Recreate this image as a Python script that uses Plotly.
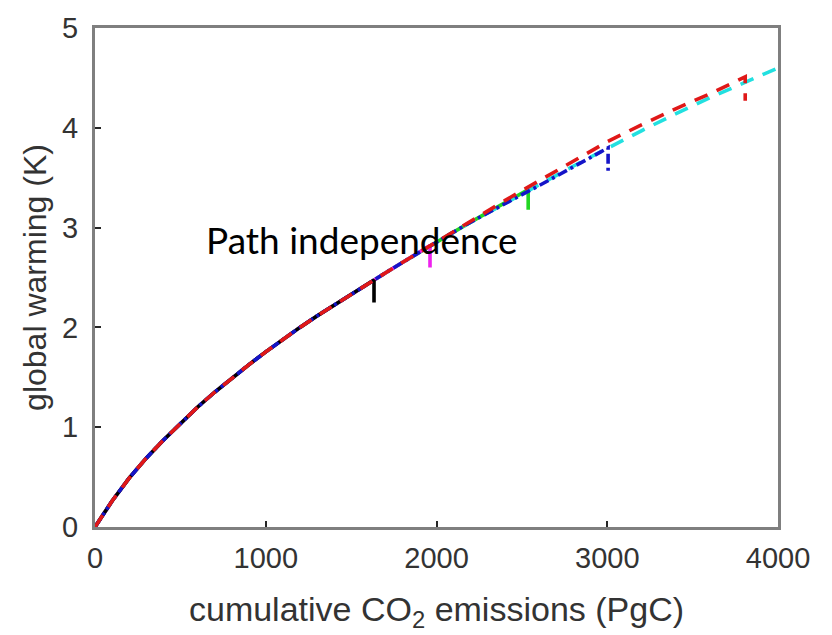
import plotly.graph_objects as go

# Warming (K) versus cumulative CO2 emissions (PgC) for six emission pathways.
# Each pathway follows the common curve until emissions stop, then warming
# drops back slightly at constant cumulative emissions.

black_emis = [0, 100, 200, 300, 400, 500, 600, 700, 800, 900, 1000, 1100, 1200, 1300, 1400,
              1500, 1600, 1634, 1634]
black_warm = [0.00, 0.26, 0.49, 0.69, 0.87, 1.04, 1.20, 1.35, 1.49, 1.625, 1.755, 1.88, 2.00,
              2.115, 2.225, 2.335, 2.44, 2.475, 2.25]

magenta_emis = [0, 100, 200, 300, 400, 500, 600, 700, 800, 900, 1000, 1100, 1200, 1300, 1400,
                1500, 1600, 1700, 1800, 1900, 1962, 1962]
magenta_warm = [0.00, 0.26, 0.49, 0.69, 0.87, 1.04, 1.20, 1.35, 1.49, 1.625, 1.755, 1.88, 2.00,
                2.115, 2.225, 2.335, 2.44, 2.545, 2.65, 2.755, 2.82, 2.60]

green_emis = [0, 100, 200, 300, 400, 500, 600, 700, 800, 900, 1000, 1100, 1200, 1300, 1400,
              1500, 1600, 1700, 1800, 1900, 2000, 2100, 2200, 2300, 2400, 2500, 2537, 2537]
green_warm = [0.00, 0.26, 0.49, 0.69, 0.87, 1.04, 1.20, 1.35, 1.49, 1.625, 1.755, 1.88, 2.00,
              2.115, 2.225, 2.335, 2.44, 2.545, 2.65, 2.755, 2.855, 2.955, 3.055, 3.15, 3.245,
              3.34, 3.38, 3.18]

blue_emis = [0, 100, 200, 300, 400, 500, 600, 700, 800, 900, 1000, 1100, 1200, 1300, 1400,
             1500, 1600, 1700, 1800, 1900, 2000, 2100, 2200, 2300, 2400, 2500, 2600, 2700,
             2800, 2900, 3005, 3005]
blue_warm = [0.00, 0.26, 0.49, 0.69, 0.87, 1.04, 1.20, 1.35, 1.49, 1.625, 1.755, 1.88, 2.00,
             2.115, 2.225, 2.335, 2.44, 2.545, 2.65, 2.755, 2.855, 2.955, 3.055, 3.15, 3.24,
             3.33, 3.42, 3.51, 3.60, 3.70, 3.80, 3.55]

red_emis = [0, 100, 200, 300, 400, 500, 600, 700, 800, 900, 1000, 1100, 1200, 1300, 1400,
            1500, 1600, 1700, 1800, 1900, 2000, 2100, 2200, 2300, 2400, 2500, 2600, 2700,
            2800, 2900, 3000, 3200, 3400, 3600, 3808, 3808]
red_warm = [0.00, 0.26, 0.49, 0.69, 0.87, 1.04, 1.20, 1.35, 1.49, 1.625, 1.755, 1.88, 2.00,
            2.115, 2.225, 2.335, 2.44, 2.545, 2.65, 2.755, 2.86, 2.965, 3.07, 3.17, 3.27,
            3.37, 3.47, 3.57, 3.67, 3.77, 3.86, 4.03, 4.19, 4.34, 4.51, 4.27]

cyan_emis = [0, 100, 200, 300, 400, 500, 600, 700, 800, 900, 1000, 1100, 1200, 1300, 1400,
             1500, 1600, 1700, 1800, 1900, 2000, 2100, 2200, 2300, 2400, 2500, 2600, 2700,
             2800, 2900, 3000, 3200, 3400, 3600, 3800, 4000]
cyan_warm = [0.00, 0.26, 0.49, 0.69, 0.87, 1.04, 1.20, 1.35, 1.49, 1.625, 1.755, 1.88, 2.00,
             2.115, 2.225, 2.335, 2.44, 2.545, 2.65, 2.755, 2.855, 2.955, 3.055, 3.15, 3.245,
             3.34, 3.435, 3.525, 3.615, 3.705, 3.795, 3.97, 4.14, 4.30, 4.45, 4.60]

x_ticks = [0, 1000, 2000, 3000, 4000]
y_ticks = [0, 1, 2, 3, 4, 5]

# drawing order: bottom to top
series = [
    (green_emis, green_warm, "#22d622", "solid"),
    (cyan_emis, cyan_warm, "#22e0e0", "14px,10px"),
    (magenta_emis, magenta_warm, "#ee22ee", "solid"),
    (black_emis, black_warm, "#000000", "solid"),
    (blue_emis, blue_warm, "#1414c8", "10px,4px,3px,4px"),
    (red_emis, red_warm, "#e01818", "14px,10px"),
]

fig = go.Figure()
for ex, wy, col, dash in series:
    fig.add_trace(go.Scatter(x=ex, y=wy, mode="lines",
                             line=dict(color=col, width=3.6, dash=dash),
                             showlegend=False, hoverinfo="skip"))

axis_font = dict(family="Liberation Sans, Arial, sans-serif", size=29, color="#333333")

fig.update_xaxes(range=[0, 4000], tickvals=x_ticks, ticks="inside", ticklen=6,
                 tickwidth=1.5, tickcolor="#262626", showline=True, linecolor="#7f7f7f",
                 linewidth=3, mirror=True, showgrid=False, zeroline=False,
                 tickfont=axis_font, ticklabelstandoff=3,
                 title=dict(text="cumulative CO<sub>2</sub> emissions (PgC)",
                            font=dict(family="Liberation Sans, Arial, sans-serif", size=34,
                                      color="#333333"),
                            standoff=25))
fig.update_yaxes(range=[0, 5], tickvals=y_ticks, ticks="inside", ticklen=6,
                 tickwidth=1.5, tickcolor="#262626", showline=True, linecolor="#7f7f7f",
                 linewidth=3, mirror=True, showgrid=False, zeroline=False,
                 tickfont=axis_font, ticklabelstandoff=8,
                 title=dict(text="global warming (K)",
                            font=dict(family="Liberation Sans, Arial, sans-serif", size=32,
                                      color="#333333"),
                            standoff=6))

fig.add_annotation(text="Path independence", xref="x", yref="y", x=1561, y=2.88,
                   showarrow=False, xanchor="center", yanchor="middle",
                   font=dict(family="Lato, Carlito, sans-serif", size=37, color="#000000"))

fig.update_layout(width=832, height=635, margin=dict(l=95, r=54, t=16, b=106),
                  plot_bgcolor="white", paper_bgcolor="white")

fig.write_html("out.html")
